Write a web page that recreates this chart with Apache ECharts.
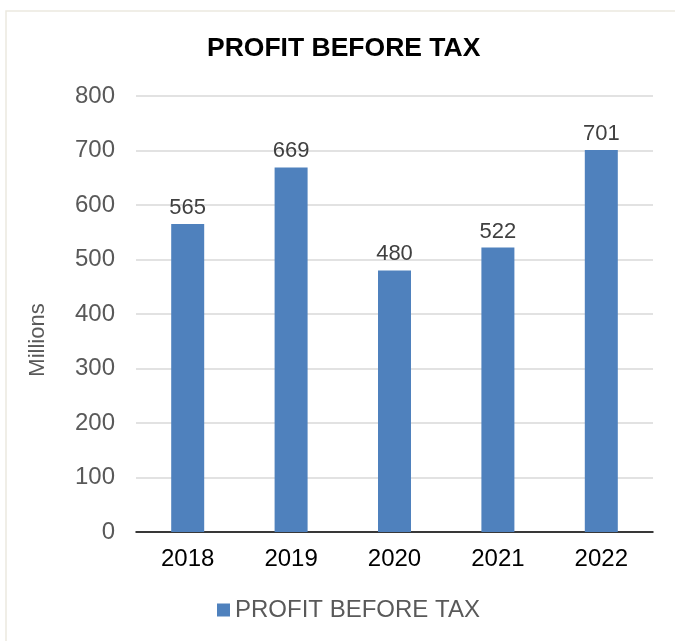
<!DOCTYPE html>
<html>
<head>
<meta charset="utf-8">
<script src="https://cdn.jsdelivr.net/npm/echarts@6/dist/echarts.min.js"></script>
<style>html,body{margin:0;padding:0;background:#fff;}#c{width:675px;height:641px;}</style>
</head>
<body>
<div id="c"></div>
<script>
var categories = ['2018', '2019', '2020', '2021', '2022'];
var profitValues = [565, 669, 480, 522, 701];
var seriesName = 'PROFIT BEFORE TAX';
var titleText = 'PROFIT BEFORE TAX';
var yAxisTitle = 'Millions';

var FONT = '"Liberation Sans", Arial, sans-serif';
var chart = echarts.init(document.getElementById('c'), null, {renderer: 'canvas'});
chart.setOption({
  backgroundColor: '#ffffff',
  animation: false,
  title: {
    text: titleText,
    left: 207,
    top: 35,
    padding: 0,
    textStyle: {fontFamily: FONT, fontSize: 26.5, fontWeight: 'bold', color: '#000000'}
  },
  graphic: [
    {type: 'rect', shape: {x: 6, y: 11, width: 700, height: 700}, style: {fill: 'none', stroke: '#ebe9df', lineWidth: 1.5}, silent: true, z: -10},
    {type: 'text', x: 38, y: 340, rotation: Math.PI / 2,
     style: {text: yAxisTitle, font: '22px "Liberation Sans", Arial, sans-serif', fill: '#595959', textAlign: 'center', textVerticalAlign: 'middle'}}
  ],
  legend: {
    data: [seriesName],
    top: 598,
    left: 217,
    padding: 0,
    itemWidth: 13,
    itemHeight: 13,
    itemGap: 5,
    icon: 'rect',
    textStyle: {fontFamily: FONT, fontSize: 24, color: '#595959'}
  },
  grid: {left: 136, right: 22, top: 96, bottom: 109, containLabel: false},
  xAxis: {
    type: 'category',
    data: categories,
    axisLine: {lineStyle: {color: '#000000', width: 1.5}},
    axisTick: {show: false},
    axisLabel: {fontFamily: FONT, fontSize: 24, color: '#000000', margin: 15}
  },
  yAxis: {
    type: 'value',
    min: 0,
    max: 800,
    interval: 100,
    axisLine: {show: false},
    axisTick: {show: false},
    splitLine: {lineStyle: {color: '#d9d9d9', width: 1.5}},
    axisLabel: {fontFamily: FONT, fontSize: 24, color: '#595959', margin: 21}
  },
  series: [{
    name: seriesName,
    type: 'bar',
    data: profitValues,
    barWidth: 33,
    itemStyle: {color: '#4f81bd'},
    label: {show: true, position: 'top', distance: 5, fontFamily: FONT, fontSize: 22, color: '#404040'}
  }]
});
</script>
</body>
</html>
